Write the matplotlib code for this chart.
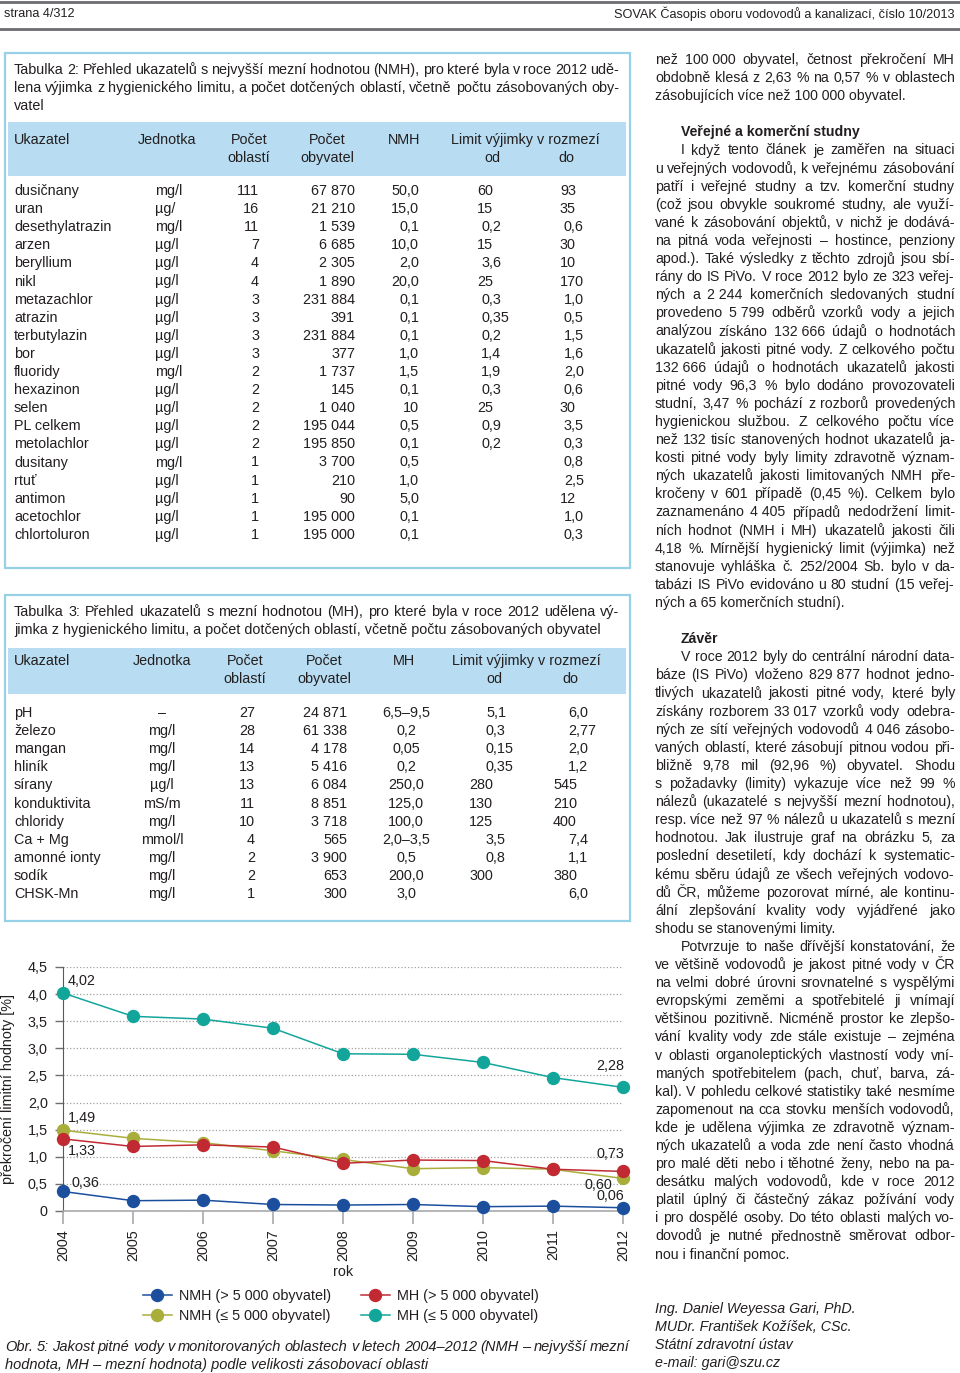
import matplotlib
matplotlib.use('Agg')
import matplotlib.pyplot as plt
from matplotlib import font_manager
from matplotlib.patches import Rectangle

# ---- Obr. 5 data ----
years = [2004, 2005, 2006, 2007, 2008, 2009, 2010, 2011, 2012]
nmh_big = [0.36, 0.19, 0.20, 0.12, 0.11, 0.12, 0.08, 0.09, 0.06]
nmh_small = [1.49, 1.34, 1.26, 1.11, 0.95, 0.78, 0.80, 0.77, 0.60]
mh_big = [1.33, 1.19, 1.22, 1.18, 0.88, 0.94, 0.93, 0.77, 0.73]
mh_small = [4.02, 3.59, 3.54, 3.37, 2.90, 2.89, 2.74, 2.46, 2.28]
series_labels = ['NMH (> 5 000 obyvatel)', 'NMH (≤ 5 000 obyvatel)',
                 'MH (> 5 000 obyvatel)', 'MH (≤ 5 000 obyvatel)']
yticks = [0, 0.5, 1.0, 1.5, 2.0, 2.5, 3.0, 3.5, 4.0, 4.5]
ytick_labels = ['0', '0,5', '1,0', '1,5', '2,0', '2,5', '3,0', '3,5', '4,0', '4,5']

# ---- Tabulka 2 ----
t2_ukazatel = ['dusičnany', 'uran', 'desethylatrazin', 'arzen', 'beryllium', 'nikl',
               'metazachlor', 'atrazin', 'terbutylazin', 'bor', 'fluoridy', 'hexazinon',
               'selen', 'PL celkem', 'metolachlor', 'dusitany', 'rtuť', 'antimon',
               'acetochlor', 'chlortoluron']
t2_jednotka = ['mg/l', 'µg/', 'mg/l', 'µg/l', 'µg/l', 'µg/l', 'µg/l', 'µg/l', 'µg/l', 'µg/l',
               'mg/l', 'µg/l', 'µg/l', 'µg/l', 'µg/l', 'mg/l', 'µg/l', 'µg/l', 'µg/l', 'µg/l']
t2_oblasti = ['111', '16', '11', '7', '4', '4', '3', '3', '3', '3',
              '2', '2', '2', '2', '2', '1', '1', '1', '1', '1']
t2_obyvatel = ['67 870', '21 210', '1 539', '6 685', '2 305', '1 890', '231 884', '391',
               '231 884', '377', '1 737', '145', '1 040', '195 044', '195 850', '3 700',
               '210', '90', '195 000', '195 000']
t2_nmh = ['50,0', '15,0', '0,1', '10,0', '2,0', '20,0', '0,1', '0,1', '0,1', '1,0',
          '1,5', '0,1', '10', '0,5', '0,1', '0,5', '1,0', '5,0', '0,1', '0,1']
t2_od = ['60', '15', '0,2', '15', '3,6', '25', '0,3', '0,35', '0,2', '1,4',
         '1,9', '0,3', '25', '0,9', '0,2', '', '', '', '', '']
t2_do = ['93', '35', '0,6', '30', '10', '170', '1,0', '0,5', '1,5', '1,6',
         '2,0', '0,6', '30', '3,5', '0,3', '0,8', '2,5', '12', '1,0', '0,3']

# ---- Tabulka 3 ----
t3_ukazatel = ['pH', 'železo', 'mangan', 'hliník', 'sírany', 'konduktivita', 'chloridy',
               'Ca + Mg', 'amonné ionty', 'sodík', 'CHSK-Mn']
t3_jednotka = ['–', 'mg/l', 'mg/l', 'mg/l', 'µg/l', 'mS/m', 'mg/l', 'mmol/l', 'mg/l', 'mg/l', 'mg/l']
t3_oblasti = ['27', '28', '14', '13', '13', '11', '10', '4', '2', '2', '1']
t3_obyvatel = ['24 871', '61 338', '4 178', '5 416', '6 084', '8 851', '3 718', '565',
               '3 900', '653', '300']
t3_mh = ['6,5–9,5', '0,2', '0,05', '0,2', '250,0', '125,0', '100,0', '2,0–3,5', '0,5', '200,0', '3,0']
t3_od = ['5,1', '0,3', '0,15', '0,35', '280', '130', '125', '3,5', '0,8', '300', '']
t3_do = ['6,0', '2,77', '2,0', '1,2', '545', '210', '400', '7,4', '1,1', '380', '6,0']

NB = '\u00a0'
right_col = [
    (0, 'cont', ['než 100' + NB + '000 obyvatel, četnost překročení MH',
                 'obdobně klesá z 2,63 % na 0,57 % v oblastech',
                 'zásobujících více než 100' + NB + '000 obyvatel.']),
    (4, 'head', ['Veřejné a komerční studny']),
    (5, 'para', ['I když tento článek je zaměřen na situaci',
                 'u veřejných vodovodů, k veřejnému zásobování',
                 'patří i veřejné studny a tzv. komerční studny',
                 '(což jsou obvykle soukromé studny, ale využí-',
                 'vané k zásobování objektů, v nichž je dodává-',
                 'na pitná voda veřejnosti – hostince, penziony',
                 'apod.). Také výsledky z těchto zdrojů jsou sbí-',
                 'rány do IS PiVo. V roce 2012 bylo ze 323 veřej-',
                 'ných a 2' + NB + '244 komerčních sledovaných studní',
                 'provedeno 5' + NB + '799 odběrů vzorků vody a jejich',
                 'analýzou získáno 132' + NB + '666 údajů o hodnotách',
                 'ukazatelů jakosti pitné vody. Z celkového počtu',
                 '132' + NB + '666 údajů o hodnotách ukazatelů jakosti',
                 'pitné vody 96,3 % bylo dodáno provozovateli',
                 'studní, 3,47 % pochází z rozborů provedených',
                 'hygienickou službou. Z celkového počtu více',
                 'než 132 tisíc stanovených hodnot ukazatelů ja-',
                 'kosti pitné vody byly limity zdravotně význam-',
                 'ných ukazatelů jakosti limitovaných NMH pře-',
                 'kročeny v 601 případě (0,45 %). Celkem bylo',
                 'zaznamenáno 4' + NB + '405 případů nedodržení limit-',
                 'ních hodnot (NMH i MH) ukazatelů jakosti čili',
                 '4,18 %. Mírnější hygienický limit (výjimka) než',
                 'stanovuje vyhláška č. 252/2004 Sb. bylo v da-',
                 'tabázi IS PiVo evidováno u 80 studní (15 veřej-',
                 'ných a 65 komerčních studní).']),
    (32, 'head', ['Závěr']),
    (33, 'para', ['V roce 2012 byly do centrální národní data-',
                  'báze (IS PiVo) vloženo 829' + NB + '877 hodnot jedno-',
                  'tlivých ukazatelů jakosti pitné vody, které byly',
                  'získány rozborem 33' + NB + '017 vzorků vody odebra-',
                  'ných ze sítí veřejných vodovodů 4' + NB + '046 zásobo-',
                  'vaných oblastí, které zásobují pitnou vodou při-',
                  'bližně 9,78 mil (92,96 %) obyvatel. Shodu',
                  's požadavky (limity) vykazuje více než 99 %',
                  'nálezů (ukazatelé s nejvyšší mezní hodnotou),',
                  'resp. více než 97 % nálezů u ukazatelů s mezní',
                  'hodnotou. Jak ilustruje graf na obrázku 5, za',
                  'poslední desetiletí, kdy dochází k systematic-',
                  'kému sběru údajů ze všech veřejných vodovo-',
                  'dů ČR, můžeme pozorovat mírné, ale kontinu-',
                  'ální zlepšování kvality vody vyjádřené jako',
                  'shodu se stanovenými limity.']),
    (49, 'para', ['Potvrzuje to naše dřívější konstatování, že',
                  've většině vodovodů je jakost pitné vody v ČR',
                  'na velmi dobré úrovni srovnatelné s vyspělými',
                  'evropskými zeměmi a spotřebitelé ji vnímají',
                  'většinou pozitivně. Nicméně prostor ke zlepšo-',
                  'vání kvality vody zde stále existuje – zejména',
                  'v oblasti organoleptických vlastností vody vní-',
                  'maných spotřebitelem (pach, chuť, barva, zá-',
                  'kal). V pohledu celkové statistiky také nesmíme',
                  'zapomenout na cca stovku menších vodovodů,',
                  'kde je udělena výjimka ze zdravotně význam-',
                  'ných ukazatelů a voda zde není často vhodná',
                  'pro malé děti nebo i těhotné ženy, nebo na pa-',
                  'desátku malých vodovodů, kde v roce 2012',
                  'platil úplný či částečný zákaz požívání vody',
                  'i pro dospělé osoby. Do této oblasti malých vo-',
                  'dovodů je nutné přednostně směrovat odbor-',
                  'nou i finanční pomoc.']),
    (69, 'sig', ['Ing. Daniel Weyessa Gari, PhD.', 'MUDr. František Kožíšek, CSc.',
                 'Státní zdravotní ústav', 'e-mail: gari@szu.cz']),
]

# ---- page setup: one pixel grid over the whole page ----
W, H = 960, 1373
fig = plt.figure(figsize=(W / 100, H / 100), dpi=100)
bg = fig.add_axes([0, 0, 1, 1])
bg.set_xlim(0, W)
bg.set_ylim(H, 0)
bg.axis('off')
renderer = fig.canvas.get_renderer()

installed = {f.name for f in font_manager.fontManager.ttflist}
SANS = ['Liberation Sans', 'DejaVu Sans']
COND = ['Liberation Sans Narrow', 'DejaVu Sans'] if 'Liberation Sans Narrow' in installed else SANS
INK = '#231f20'
BLUE_EDGE = '#96d1e6'
BLUE_FILL = '#b8ddf2'


def put(x, y, s, size, family=SANS, ha='left', **kw):
    return bg.text(x, y, s, fontsize=size, family=family, ha=ha, va='center', color=INK, **kw)


def fit(s, target, family, **kw):
    t = put(0, 0, s, 10, family, **kw)
    w = t.get_window_extent(renderer).width
    t.remove()
    return 10 * target / w


def put_just(x0, x1, y, s, size, family=SANS, **kw):
    words = [w for w in s.split(' ') if w]
    arts = [put(0, y, w, size, family, **kw) for w in words]
    widths = [a.get_window_extent(renderer).width for a in arts]
    gap = (x1 - x0 - sum(widths)) / (len(words) - 1)
    x = x0
    for a, w in zip(arts, widths):
        a.set_x(x)
        x += w + gap


body = fit('zásobujících více než 100' + NB + '000 obyvatel.', 252, SANS)
tab = fit('jimka z hygienického limitu, a počet dotčených oblastí, včetně počtu zásobovaných obyvatel', 588, COND)
small = fit('SOVAK Časopis oboru vodovodů a kanalizací, číslo 10/2013', 341, SANS)
cap = fit('hodnota, MH – mezní hodnota) podle velikosti zásobovací oblasti', 422, COND, style='italic')
sig = fit('Ing. Daniel Weyessa Gari, PhD.', 202, SANS, style='italic')
chart = fit(series_labels[0], 152, COND)

# header
bg.plot([0, W], [1.5, 1.5], color='#6d6e71', lw=2)
bg.plot([0, W], [28.5, 28.5], color='#6d6e71', lw=2)
put(4, 14, 'strana 4/312', small)
put(955, 14, 'SOVAK Časopis oboru vodovodů a kanalizací, číslo 10/2013', small, ha='right')

# right column text
for start, kind, lines in right_col:
    for k, s in enumerate(lines):
        y = 60 + (start + k) * 18.1
        if kind == 'head':
            put(681, y, s, body, weight='bold')
        elif kind == 'sig':
            put(655, y, s, sig, style='italic')
        else:
            x0 = 681 if (kind == 'para' and k == 0) else 655
            if k < len(lines) - 1:
                put_just(x0, 955, y, s, body)
            else:
                put(x0, y, s, body)


def table(box, band, title, title_just, head_y, heads, rows_y, cols):
    bg.add_patch(Rectangle((box[0], box[1]), box[2] - box[0], box[3] - box[1],
                           fill=False, edgecolor=BLUE_EDGE, lw=1.6))
    bg.add_patch(Rectangle((band[0], band[1]), band[2] - band[0], band[3] - band[1],
                           facecolor=BLUE_FILL, edgecolor='none'))
    for k, s in enumerate(title):
        y = box[1] + 17 + k * 18.1
        if k < title_just:
            put_just(14, 619, y, s, tab, COND)
        else:
            put(14, y, s, tab, COND)
    for x, ha, l1, l2 in heads:
        put(x, head_y, l1, tab, COND, ha=ha)
        if l2:
            put(x, head_y + 18, l2, tab, COND, ha=ha)
    for vals, x, ha, int_shift in cols:
        for i, v in enumerate(vals):
            xx = x - (int_shift if (v and ',' not in v) else 0)
            put(xx, rows_y + i * 18.1, v, tab, COND, ha=ha)


table((5, 53, 630, 568), (8, 122, 626, 176),
      ['Tabulka 2: Přehled ukazatelů s nejvyšší mezní hodnotou (NMH), pro které byla v roce 2012 udě-',
       'lena výjimka z hygienického limitu, a počet dotčených oblastí, včetně počtu zásobovaných oby-',
       'vatel'], 2, 140,
      [(14, 'left', 'Ukazatel', ''), (167, 'center', 'Jednotka', ''),
       (249, 'center', 'Počet', 'oblastí'), (327, 'center', 'Počet', 'obyvatel'),
       (404, 'center', 'NMH', ''), (451, 'left', 'Limit výjimky v rozmezí', '')],
      191,
      [(t2_ukazatel, 14, 'left', 0), (t2_jednotka, 155, 'left', 0),
       (t2_oblasti, 259, 'right', 0), (t2_obyvatel, 355, 'right', 0),
       (t2_nmh, 419, 'right', 0), (t2_od, 481, 'left', 4), (t2_do, 564, 'left', 4)])
put(492, 158, 'od', tab, COND, ha='center')
put(566, 158, 'do', tab, COND, ha='center')

table((5, 595, 630, 921), (8, 648, 626, 694),
      ['Tabulka 3: Přehled ukazatelů s mezní hodnotou (MH), pro které byla v roce 2012 udělena vý-',
       'jimka z hygienického limitu, a počet dotčených oblastí, včetně počtu zásobovaných obyvatel'],
      1, 661,
      [(14, 'left', 'Ukazatel', ''), (162, 'center', 'Jednotka', ''),
       (245, 'center', 'Počet', 'oblastí'), (324, 'center', 'Počet', 'obyvatel'),
       (404, 'center', 'MH', ''), (452, 'left', 'Limit výjimky v rozmezí', '')],
      713,
      [(t3_ukazatel, 14, 'left', 0), (t3_jednotka, 162, 'center', 0),
       (t3_oblasti, 255, 'right', 0), (t3_obyvatel, 347, 'right', 0),
       (t3_mh, 406, 'center', 0), (t3_od, 486, 'left', 17), (t3_do, 568, 'left', 15)])
put(494, 679, 'od', tab, COND, ha='center')
put(570, 679, 'do', tab, COND, ha='center')

# ---- chart ----
x_left, x_right, y_top, y_zero = 63, 623, 967, 1211
ax = fig.add_axes([x_left / W, 1 - y_zero / H, (x_right - x_left) / W, (y_zero - y_top) / H])
ax.patch.set_visible(False)
ax.set_xlim(years[0], years[-1])
ax.set_ylim(0, 4.5)

colors = {'nmh_big': '#1b4f9e', 'nmh_small': '#a9ae3a', 'mh_big': '#c22a33', 'mh_small': '#12a69b'}
order = [('nmh_small', nmh_small, 1), ('mh_big', mh_big, 2), ('mh_small', mh_small, 3), ('nmh_big', nmh_big, 0)]
handles = [None] * 4
for key, vals, li in order:
    ln, = ax.plot(years, vals, color=colors[key], lw=1.1, marker='o', ms=8.6,
                  clip_on=False, zorder=3, label=series_labels[li])
    handles[li] = ln

# value labels at the first and last year: (series, index, dx px, dy px, ha)
labels = [(mh_small, 0, 5, 12, 'left'), (nmh_small, 0, 5, 12, 'left'),
          (mh_big, 0, 5, -12, 'left'), (nmh_big, 0, 9, 8, 'left'),
          (mh_small, -1, 1, 21, 'right'), (mh_big, -1, 1, 17, 'right'),
          (nmh_small, -1, -11, -7, 'right'), (nmh_big, -1, 1, 12, 'right')]
for vals, i, dx, dy, ha in labels:
    ax.annotate(f'{vals[i]:.2f}'.replace('.', ','), (years[i], vals[i]), xytext=(dx, dy),
                textcoords='offset pixels', ha=ha, va='center', fontsize=chart,
                family=COND, color=INK, zorder=4)

ax.set_yticks(yticks)
ax.set_yticklabels(ytick_labels)
ax.set_xticks(years)
ax.set_xticklabels([str(y) for y in years], rotation=90)
for lab in ax.get_xticklabels() + ax.get_yticklabels():
    lab.set_family(COND)
    lab.set_fontsize(chart)
    lab.set_color(INK)
ax.tick_params(axis='y', length=6, width=1, color='#6d6e71', pad=5)
ax.tick_params(axis='x', length=9, width=1.2, color='#a7a9ac', pad=4)
ax.yaxis.grid(True, linestyle=':', color='#a0a0a0', lw=0.9)
ax.set_axisbelow(True)
for s in ('top', 'right'):
    ax.spines[s].set_visible(False)
ax.spines['left'].set_color('#58595b')
ax.spines['bottom'].set_color('#a7a9ac')
ax.spines['bottom'].set_linewidth(1.2)

ax.set_ylabel('překročení limitní hodnoty [%]', fontsize=chart, family=COND, color=INK)
ax.yaxis.set_label_coords(-0.085, 0.5)
ax.set_xlabel('rok', fontsize=chart, family=COND, color=INK)
ax.xaxis.set_label_coords(0.5, -0.22)

leg = ax.legend(handles=handles, ncol=2, loc='upper left',
                bbox_to_anchor=(143 / W, 1 - 1289 / H), bbox_transform=fig.transFigure,
                frameon=False, prop={'family': COND, 'size': chart},
                handlelength=2.0, handletextpad=0.5, columnspacing=2.1,
                labelspacing=0.45, borderpad=0, borderaxespad=0)
for t in leg.get_texts():
    t.set_color(INK)

# caption
put_just(5, 630, 1347, 'Obr. 5: Jakost pitné vody v monitorovaných oblastech v letech 2004–2012 '
         '(NMH – nejvyšší mezní', cap, COND, style='italic')
put(5, 1365, 'hodnota, MH – mezní hodnota) podle velikosti zásobovací oblasti', cap, COND, style='italic')

fig.savefig('out.png', dpi=100)
